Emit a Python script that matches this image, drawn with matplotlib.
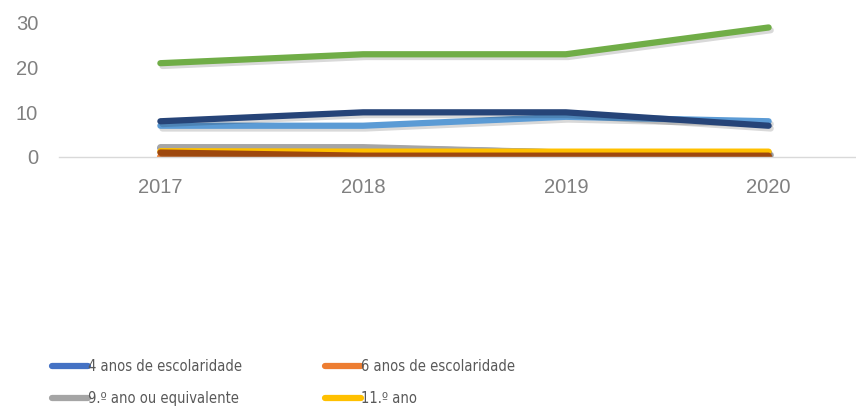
import matplotlib.pyplot as plt
import matplotlib.patheffects as pe
from matplotlib import font_manager as fm

years = ['2017', '2018', '2019', '2020']

# values (series hidden by the cropped legend have guessed names)
anos4 = [2, 2, 1, 1]
anos6 = [0, 0, 0, 0]
ano9 = [2.2, 2.2, 1, 1]
ano11 = [1.3, 1.2, 1.2, 1.2]
ano12 = [7, 7, 9, 8]
licenciatura = [21, 23, 23, 29]
mestrado = [8, 10, 10, 7]
doutoramento = [1, 0.3, 0.3, 0.3]

labels = ['4 anos de escolaridade', '6 anos de escolaridade',
          '9.º ano ou equivalente', '11.º ano', '12.º ano ou equivalente',
          'Licenciatura', 'Mestrado', 'Doutoramento']
series = [anos4, anos6, ano9, ano11, ano12, licenciatura, mestrado,
          doutoramento]
colors = ['#4472C4', '#ED7D31', '#A5A5A5', '#FFC000', '#5B9BD5',
          '#70AD47', '#264478', '#9E480E']

fig = plt.figure(figsize=(8.56, 4.07), dpi=100)
ax = fig.add_axes([59/856, 1 - 157/407, 811/856, 134/407])

x = range(len(years))
handles = []
for vals, lab, col in zip(series, labels, colors):
    h, = ax.plot(x, vals, color=col, lw=4.5, solid_capstyle='round',
                 solid_joinstyle='round', label=lab,
                 path_effects=[pe.SimpleLineShadow(offset=(1.5, -2), alpha=0.15),
                               pe.Normal()])
    handles.append(h)

ax.set_xlim(-0.5, 3.5)
ax.set_ylim(0, 30)
ax.set_yticks([0, 10, 20, 30])
ax.set_xticks(list(x))
ax.set_xticklabels(years)
for s in ['top', 'right', 'left']:
    ax.spines[s].set_visible(False)
ax.spines['bottom'].set_color('#D9D9D9')
ax.spines['bottom'].set_linewidth(1)
ax.tick_params(axis='both', length=0, labelcolor='#808080', labelsize=14.5)
ax.tick_params(axis='y', pad=15)
ax.tick_params(axis='x', pad=15)
for t in ax.get_xticklabels() + ax.get_yticklabels():
    t.set_family(['Liberation Sans', 'DejaVu Sans'])

# only the first two legend rows are visible in the reference
legprop = fm.FontProperties(family=['DejaVu Sans'], stretch='condensed', size=10.5)
leg_kw = dict(loc='upper left', frameon=False, borderpad=0, borderaxespad=0,
              handlelength=2.5, handletextpad=0.0, labelspacing=1.15,
              prop=legprop, labelcolor='#595959')
l1 = fig.legend([handles[0], handles[2]], [labels[0], labels[2]],
                bbox_to_anchor=(52/856, 1 - 359/407), **leg_kw)
l2 = fig.legend([handles[1], handles[3]], [labels[1], labels[3]],
                bbox_to_anchor=(325/856, 1 - 359/407), **leg_kw)
for leg in (l1, l2):
    for ln in leg.get_lines():
        ln.set_path_effects([])
        ln.set_linewidth(4.5)

fig.savefig('out.png', dpi=100)
